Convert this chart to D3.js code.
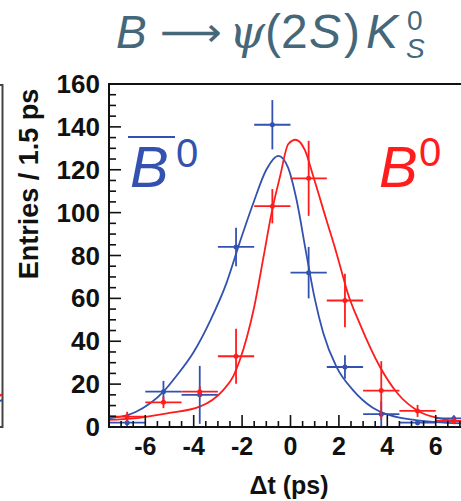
<!DOCTYPE html>
<html>
<head>
<meta charset="utf-8">
<script src="https://cdn.jsdelivr.net/npm/d3@7"></script>
<style>
  html, body { margin: 0; padding: 0; background: #fff; }
  svg { display: block; }
</style>
</head>
<body>
<div id="chart"></div>
<script>
// ---- data ----
const binCenters = [-6.75, -5.25, -3.75, -2.25, -0.75, 0.75, 2.25, 3.75, 5.25, 6.75];
const binHalfWidth = 0.75;
const b0barEntries = [2, 16.5, 15, 84, 141, 72, 28, 6, 2, 4];
const b0barErrors  = [3, 5, 13.5, 9, 11.5, 12, 5.5, 6, 1.2, 1.5];
const b0Entries    = [4.8, 11.5, 16.5, 33, 103, 116, 59, 17, 7.5, 2.8];
const b0Errors     = [2.3, 2.7, 2.5, 12.8, 8, 17.5, 12.5, 13.7, 2.8, 1.5];

// fitted curves, sampled by eye along the drawn lines
const b0barCurveT = [-7.5, -6.4, -5.25, -4.7, -4.0, -3.3, -2.65, -2.1, -1.55, -1.0, -0.5, -0.1, 0.25, 0.65, 1.0, 1.35, 1.9, 2.6, 3.4, 4.1, 5.1, 6.0, 7.5];
const b0barCurveY = [4, 7, 16.5, 24, 35, 50, 67, 86, 104, 120, 126.5, 121, 106, 81, 60, 44, 28, 17, 9, 5.5, 3.3, 2.3, 1.5];
const b0CurveT = [-7.5, -6.5, -5.1, -3.75, -2.8, -2.35, -2.1, -1.8, -1.5, -1.12, -0.78, -0.43, -0.09, 0.21, 0.6, 0.94, 1.5, 1.8, 2.1, 2.35, 2.87, 3.7, 4.4, 5.35, 6.2, 7.0, 7.5];
const b0CurveY = [3.3, 4, 6.4, 9.5, 17, 24, 31, 42, 56, 79, 100, 117, 132, 134, 129, 117, 96, 85, 73, 63, 48, 28, 16, 7, 4, 2.5, 2];

const xMajorTicks = [-6, -4, -2, 0, 2, 4, 6];
const yMajorTicks = [0, 20, 40, 60, 80, 100, 120, 140, 160];

const BLUE = "#3352b0";
const RED = "#ff1c1c";
const TITLE = "#45677a";

// ---- drawing ----
const W = 461, H = 501;
const svg = d3.select("#chart").append("svg").attr("width", W).attr("height", H);

const x = d3.scaleLinear().domain([-7.5, 7.5]).range([109, 472]);
const y = d3.scaleLinear().domain([0, 160]).range([427, 84]);

// neighbouring panel fragment at the far left
svg.append("path").attr("d", "M0,85 H2.5 V427 H0").attr("fill", "none")
  .attr("stroke", "#444").attr("stroke-width", 2);
svg.append("line").attr("x1", 0).attr("x2", 2).attr("y1", 396).attr("y2", 394)
  .attr("stroke", RED).attr("stroke-width", 2);
svg.append("line").attr("x1", 0).attr("x2", 2).attr("y1", 401).attr("y2", 400)
  .attr("stroke", BLUE).attr("stroke-width", 2);

// title
const title = svg.append("g").attr("fill", TITLE).style("font-family", "'Liberation Sans', Arial, sans-serif");
title.append("text").attr("x", 116).attr("y", 48).style("font-size", "46px").style("font-style", "italic").text("B");
title.append("text").attr("x", 160).attr("y", 46).style("font-size", "40px")
  .style("font-family", "'DejaVu Sans', sans-serif")
  .attr("textLength", 62).attr("lengthAdjust", "spacingAndGlyphs").text("\u27F6");
title.append("text").attr("x", 229).attr("y", 48).style("font-size", "46px").style("font-style", "italic")
  .style("font-family", "'DejaVu Serif', serif").text("\u03C8");
title.append("text").attr("x", 265).attr("y", 48).style("font-size", "48px").text("(2");
title.append("text").attr("x", 309).attr("y", 48).style("font-size", "48px").style("font-style", "italic").text("S");
title.append("text").attr("x", 344).attr("y", 48).style("font-size", "48px").text(")");
title.append("text").attr("x", 366).attr("y", 48).style("font-size", "48px").style("font-style", "italic").text("K");
title.append("text").attr("x", 407).attr("y", 30).style("font-size", "28px").text("0");
title.append("text").attr("x", 406).attr("y", 58).style("font-size", "28px").style("font-style", "italic").text("S");

// clip for plot content
svg.append("clipPath").attr("id", "plotclip").append("rect")
  .attr("x", 109).attr("y", 84).attr("width", 363).attr("height", 343);
const plot = svg.append("g").attr("clip-path", "url(#plotclip)");

// curves
const line = d3.line().x(d => x(d[0])).y(d => y(d[1])).curve(d3.curveMonotoneX);
plot.append("path").datum(d3.zip(b0barCurveT, b0barCurveY)).attr("d", line)
  .attr("fill", "none").attr("stroke", BLUE).attr("stroke-width", 1.8);
plot.append("path").datum(d3.zip(b0CurveT, b0CurveY)).attr("d", line)
  .attr("fill", "none").attr("stroke", RED).attr("stroke-width", 1.8);

// data points with error bars
function drawPoints(vals, errs, color) {
  const g = plot.append("g").attr("stroke", color).attr("fill", color).attr("stroke-width", 1.8);
  binCenters.forEach((c, i) => {
    const v = vals[i], e = errs[i];
    g.append("line").attr("x1", x(c - binHalfWidth)).attr("x2", x(c + binHalfWidth))
      .attr("y1", y(v)).attr("y2", y(v));
    g.append("line").attr("x1", x(c)).attr("x2", x(c))
      .attr("y1", y(Math.max(0, v - e))).attr("y2", y(v + e));
    g.append("circle").attr("cx", x(c)).attr("cy", y(v)).attr("r", 2.5).attr("stroke", "none");
  });
}
drawPoints(b0barEntries, b0barErrors, BLUE);
drawPoints(b0Entries, b0Errors, RED);

// frame
svg.append("path").attr("d", `M${x(7.5)},${y(160)} H${x(-7.5)} V${y(0)} H${x(7.5)}`)
  .attr("fill", "none").attr("stroke", "#111").attr("stroke-width", 2);

// axis ticks (ROOT style, inward)
const ticks = svg.append("g");
d3.range(-7, 7.51, 0.5).forEach(t => {
  const major = xMajorTicks.includes(t);
  ticks.append("line").attr("x1", x(t)).attr("x2", x(t)).attr("y1", y(0)).attr("y2", y(0) - (major ? 12 : 6))
    .attr("stroke", "#111").attr("stroke-width", 1.6);
});
d3.range(5, 160, 5).forEach(t => {
  const major = yMajorTicks.includes(t);
  ticks.append("line").attr("x1", x(-7.5)).attr("x2", x(-7.5) + (major ? 12 : 7)).attr("y1", y(t)).attr("y2", y(t))
    .attr("stroke", "#111").attr("stroke-width", 1.6);
});

// tick labels
const lab = svg.append("g").attr("fill", "#111")
  .style("font-family", "'Liberation Sans', Arial, sans-serif").style("font-weight", "bold");
xMajorTicks.forEach(t => {
  lab.append("text").attr("x", x(t)).attr("y", 455).attr("text-anchor", "middle")
    .style("font-size", "25px").text(d3.format("d")(t).replace("\u2212", "-"));
});
yMajorTicks.forEach(t => {
  lab.append("text").attr("x", 100).attr("y", y(t) + 9).attr("text-anchor", "end")
    .style("font-size", "26px").text(t);
});

// axis titles
lab.append("text").attr("transform", "translate(38,184) rotate(-90)").attr("text-anchor", "middle")
  .style("font-size", "27px").text("Entries / 1.5 ps");
lab.append("text").attr("x", 289).attr("y", 494).attr("text-anchor", "middle")
  .style("font-size", "25px").text("\u0394t (ps)");

// legend labels
const leg = svg.append("g").style("font-family", "'Liberation Sans', Arial, sans-serif");
leg.append("text").attr("x", 130).attr("y", 187).attr("fill", BLUE).style("font-size", "58px")
  .style("font-style", "italic").text("B");
leg.append("line").attr("x1", 128).attr("x2", 175).attr("y1", 137).attr("y2", 137)
  .attr("stroke", BLUE).attr("stroke-width", 2);
leg.append("text").attr("x", 176).attr("y", 167).attr("fill", BLUE).style("font-size", "40px").text("0");
leg.append("text").attr("x", 379).attr("y", 187).attr("fill", RED).style("font-size", "58px")
  .style("font-style", "italic").text("B");
leg.append("text").attr("x", 419).attr("y", 166).attr("fill", RED).style("font-size", "40px").text("0");
</script>
</body>
</html>
